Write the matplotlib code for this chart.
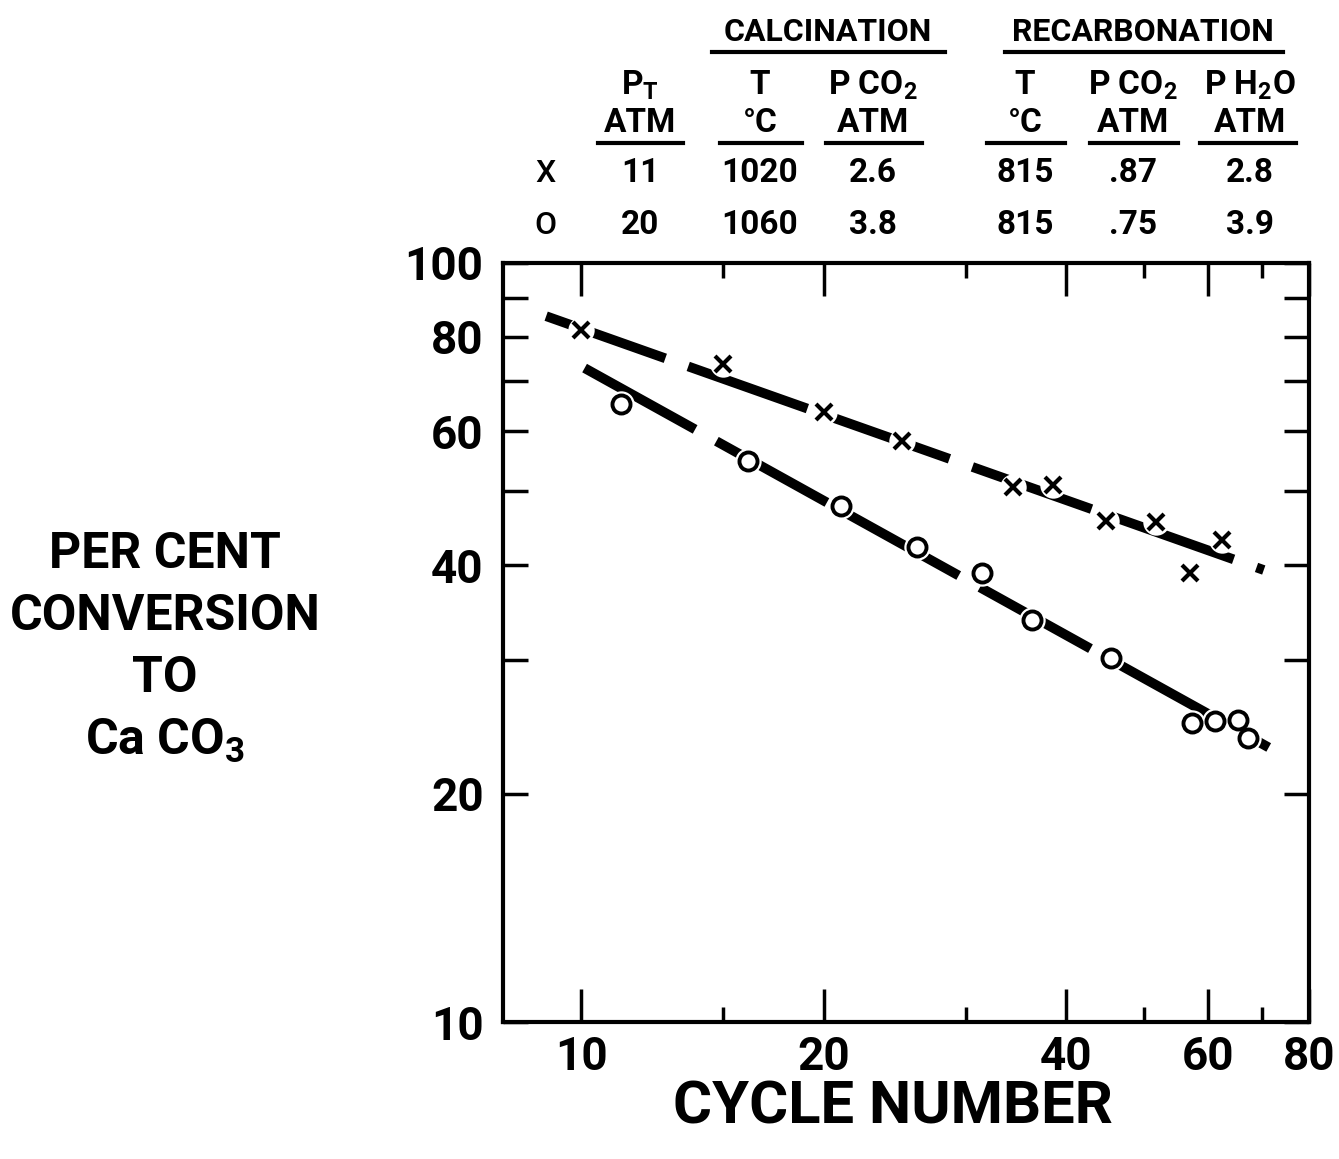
import numpy as np
import matplotlib.pyplot as plt
from matplotlib.lines import Line2D

plt.rcParams['font.family'] = ['Roboto', 'DejaVu Sans']
plt.rcParams['font.weight'] = 'bold'
plt.rcParams['mathtext.fontset'] = 'custom'
plt.rcParams['mathtext.rm'] = 'Roboto:bold'
plt.rcParams['mathtext.it'] = 'Roboto:bold'
plt.rcParams['mathtext.bf'] = 'Roboto:bold'

# Data ------------------------------------------------------------

# x series: 11 atm
cycle_x = [10, 15, 20, 25, 34.3, 38.5, 44.8, 51.6, 56.9, 62.4]
conv_x = [81.6, 73.6, 63.6, 58.3, 50.7, 51.0, 45.7, 45.6, 39.0, 43.2]

# o series: 20 atm
cycle_o = [11.2, 16.1, 21.0, 26.1, 31.4, 36.3, 45.5, 57.2, 61.1, 65.4, 67.3]
conv_o = [65.2, 54.8, 47.9, 42.3, 39.0, 33.9, 30.2, 24.8, 24.9, 25.0, 23.7]

# fitted lines, end points
fit_x_cycle = [9.05, 70.3]
fit_x_conv = [85.1, 39.4]
fit_o_cycle = [10.1, 71.3]
fit_o_conv = [72.7, 23.0]

xticks = [10, 20, 40, 60, 80]
xminor = [15, 30, 50, 70]
yticks = [10, 20, 30, 40, 50, 60, 70, 80, 90, 100]
ylabels = ['10', '20', '', '40', '', '60', '', '80', '', '100']

# table above the plot
hdr1 = ['$P_T$', 'T', 'P CO$_2$', 'T', 'P CO$_2$', 'P H$_2$O']
hdr2 = ['ATM', '°C', 'ATM', '°C', 'ATM', 'ATM']
row_x = ['11', '1020', '2.6', '815', '.87', '2.8']
row_o = ['20', '1060', '3.8', '815', '.75', '3.9']

# Figure ----------------------------------------------------------

W, H = 1339, 1159
fig = plt.figure(figsize=(W / 100, H / 100), dpi=100)

def fx(px):
    return px / W

def fy(py):
    return 1 - py / H

ax = fig.add_axes([fx(503), fy(1022), fx(1309) - fx(503), fy(263) - fy(1022)])
ax.set_xscale('log')
ax.set_yscale('log')
ax.set_xlim(8, 80)
ax.set_ylim(10, 100)

ax.set_xticks(xticks, labels=[str(t) for t in xticks])
ax.set_xticks(xminor, minor=True, labels=[''] * len(xminor))
ax.set_yticks(yticks, labels=ylabels)
ax.yaxis.set_minor_locator(plt.NullLocator())

ax.tick_params(axis='x', which='major', direction='in', top=True, length=24, width=2.5,
               labelsize=33, pad=9)
ax.tick_params(axis='x', which='minor', direction='in', top=True, length=11, width=2.5)
ax.tick_params(axis='y', which='major', direction='in', right=True, length=18, width=2.5,
               labelsize=33, pad=14)
for s in ax.spines.values():
    s.set_linewidth(3)

# fitted lines
ax.plot(fit_x_cycle, fit_x_conv, color='black', lw=7, dashes=(13, 2.5),
        dash_capstyle='butt', zorder=2)
ax.plot(fit_o_cycle, fit_o_conv, color='black', lw=7, dashes=(13, 2.5),
        dash_capstyle='butt', zorder=2)

# white gaps where the points sit on the lines
ax.plot(cycle_x, conv_x, 'o', ms=19, mfc='white', mec='none', ls='none', zorder=3)
ax.plot(cycle_o, conv_o, 'o', ms=19, mfc='white', mec='none', ls='none', zorder=3)

ax.plot(cycle_x, conv_x, 'x', ms=12, mew=3, color='black', ls='none', zorder=4)
ax.plot(cycle_o, conv_o, 'o', ms=13, mfc='white', mec='black', mew=2.8, ls='none', zorder=4)

# axis titles
fig.text(fx(893), fy(1108), 'CYCLE NUMBER', ha='center', va='center', fontsize=43)
ylab = ['PER CENT', 'CONVERSION', 'TO', 'Ca CO$_3$']
for i, t in enumerate(ylab):
    fig.text(fx(165), fy(555 + 62 * i), t, ha='center', va='center', fontsize=36)

# table
def uline(x0, x1, y):
    fig.add_artist(Line2D([fx(x0), fx(x1)], [fy(y), fy(y)], color='black', lw=3,
                          transform=fig.transFigure))

fig.text(fx(828), fy(32), 'CALCINATION', ha='center', va='center', fontsize=23)
fig.text(fx(1143), fy(32), 'RECARBONATION', ha='center', va='center', fontsize=23)
uline(712, 945, 52)
uline(1005, 1283, 52)

col_px = [640, 760, 873, 1025, 1133, 1250]
ul_px = [(598, 683), (720, 802), (826, 922), (987, 1065), (1090, 1178), (1200, 1296)]
for i in range(len(col_px)):
    fig.text(fx(col_px[i]), fy(85), hdr1[i], ha='center', va='center', fontsize=24)
    fig.text(fx(col_px[i]), fy(123), hdr2[i], ha='center', va='center', fontsize=24)
    fig.text(fx(col_px[i]), fy(173), row_x[i], ha='center', va='center', fontsize=24)
    fig.text(fx(col_px[i]), fy(225), row_o[i], ha='center', va='center', fontsize=24)
    uline(ul_px[i][0], ul_px[i][1], 143)

fig.text(fx(545), fy(173), 'X', ha='center', va='center', fontsize=23, fontweight='medium')
fig.text(fx(545), fy(225), 'O', ha='center', va='center', fontsize=23, fontweight='medium')

fig.savefig('out.png', dpi=100, facecolor='white')
